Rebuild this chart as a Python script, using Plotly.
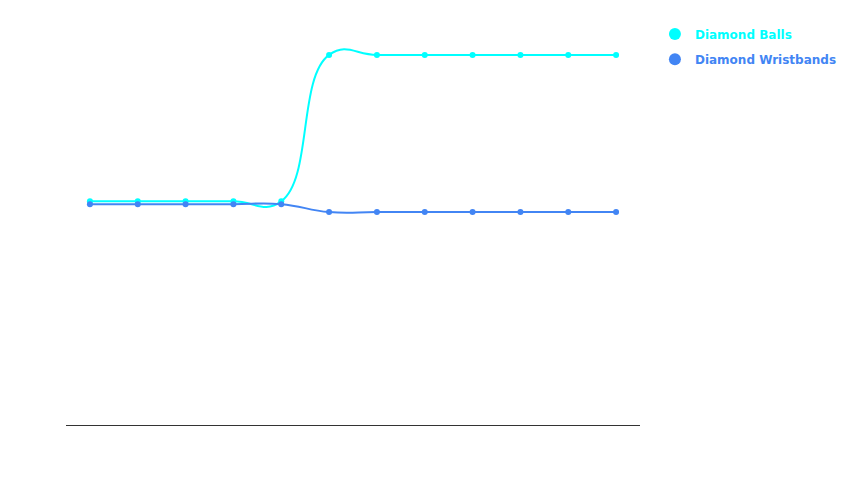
import plotly.graph_objects as go

categories = ["1", "2", "3", "4", "5", "6", "7", "8", "9", "10", "11", "12"]
diamond_balls = [56.2, 56.2, 56.2, 56.2, 56.2, 93, 93, 93, 93, 93, 93, 93]
diamond_wristbands = [55.5, 55.5, 55.5, 55.5, 55.5, 53.5, 53.5, 53.5, 53.5, 53.5, 53.5, 53.5]

series = [
    ("Diamond Balls", diamond_balls, "#00FFFF", "legend"),
    ("Diamond Wristbands", diamond_wristbands, "#4285F4", "legend2"),
]

fig = go.Figure()
for name, vals, color, lg in series:
    fig.add_trace(go.Scatter(
        x=categories, y=vals, name=name, mode="lines+markers",
        line=dict(color=color, width=2, shape="spline", smoothing=1.3),
        marker=dict(color=color, size=6),
        showlegend=False, hoverinfo="x+y+name",
    ))
for name, vals, color, lg in series:
    fig.add_trace(go.Scatter(
        x=[None], y=[None], name=name, mode="markers",
        marker=dict(color=color, size=12), legend=lg, showlegend=True,
    ))

legend_common = dict(x=1.026, xanchor="left", yanchor="top",
                     itemsizing="constant", bgcolor="rgba(0,0,0,0)")

fig.update_layout(
    width=850, height=476,
    margin=dict(l=58, r=218, t=17, b=59),
    paper_bgcolor="white", plot_bgcolor="white",
    font=dict(family="DejaVu Sans", size=12),
    xaxis=dict(type="category", range=[-0.5, 11.5], showgrid=False, zeroline=False,
               showline=True, linecolor="#333333", linewidth=1,
               showticklabels=False, ticks=""),
    yaxis=dict(range=[0, 97.5], showgrid=False, zeroline=False, showline=False,
               showticklabels=False, ticks=""),
    legend=dict(y=1.045, font=dict(family="DejaVu Sans", size=12, weight="bold",
                                   color=series[0][2]), **legend_common),
    legend2=dict(y=0.98, font=dict(family="DejaVu Sans", size=12, weight="bold",
                                   color=series[1][2]), **legend_common),
)

fig.write_html("out.html")
